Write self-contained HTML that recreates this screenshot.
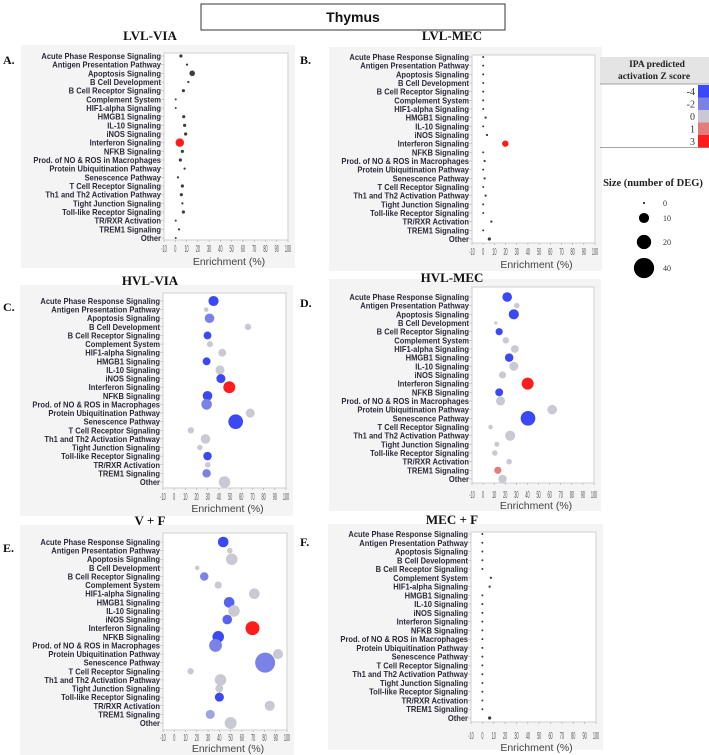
<!DOCTYPE html>
<html><head><meta charset="utf-8"><style>
html,body{margin:0;padding:0;background:#fff;}
svg{display:block;}
.lbl{font-family:"Liberation Sans",sans-serif;font-weight:bold;font-size:8.4px;fill:#2a2a3a;}
.tick{font-family:"Liberation Sans",sans-serif;font-size:9px;fill:#555;}
.ax{font-family:"Liberation Sans",sans-serif;font-size:10.5px;fill:#444;}
.pt{font-family:"Liberation Serif",serif;font-weight:bold;font-size:13px;fill:#111;}
.pl{font-family:"Liberation Serif",serif;font-weight:bold;font-size:12px;fill:#111;}
</style></head><body>
<svg id="fig" width="709" height="755" viewBox="0 0 709 755">
<rect x="201" y="4" width="304" height="26" fill="#fff" stroke="#333" stroke-width="1"/>
<text x="353" y="22" text-anchor="middle" font-family="Liberation Sans,sans-serif" font-weight="bold" font-size="14" fill="#111">Thymus</text>
<g id="panels"></g>
<g>
<rect x="600" y="57" width="109" height="27" fill="#e4e4e4"/>
<text x="657" y="67" text-anchor="middle" font-family="Liberation Serif,serif" font-weight="bold" font-size="9.5" fill="#222">IPA predicted</text>
<text x="654" y="79" text-anchor="middle" font-family="Liberation Serif,serif" font-weight="bold" font-size="9.5" fill="#222">activation Z score</text>
<line x1="600" y1="84" x2="709" y2="84" stroke="#888" stroke-width="0.8"/>
<line x1="600" y1="147.5" x2="709" y2="147.5" stroke="#888" stroke-width="0.8"/>
<g id="zleg"></g>
</g>
<g>
<text x="653" y="186" text-anchor="middle" font-family="Liberation Serif,serif" font-weight="bold" font-size="10.5" fill="#222">Size (number of DEG)</text>
<g id="sleg"></g>
</g>
</svg>
<script>
const categories = ["Acute Phase Response Signaling","Antigen Presentation Pathway","Apoptosis Signaling","B Cell Development","B Cell Receptor Signaling","Complement System","HIF1-alpha Signaling","HMGB1 Signaling","IL-10 Signaling","iNOS Signaling","Interferon Signaling","NFKB Signaling","Prod. of NO & ROS in Macrophages","Protein Ubiquitination Pathway","Senescence Pathway","T Cell Receptor Signaling","Th1 and Th2 Activation Pathway","Tight Junction Signaling","Toll-like Receptor Signaling","TR/RXR Activation","TREM1 Signaling","Other"];
const xTicks = [-10,0,10,20,30,40,50,60,70,80,90,100];

const enrichA = [5,10.4,15,11.6,7.2,0.4,0.4,7.5,8.3,9.2,4,6.3,4.5,8.3,2.4,6.3,5.4,6.3,7.2,0.4,3.3,0.4];
const degA    = [1,0.5,3,0.5,1,0,0,1,1,1,7,1,1,0.5,0.5,1,1,0.5,1,0,0.5,0];
const zA      = ["k","k","k","k","k","k","k","k","k","k","3","k","k","k","k","k","k","k","k","k","k","k"];

const enrichB = [0,0,0,0,0,0,0,2.2,0,3.4,19.8,0,1.3,0,1.3,0,2.2,0,0,7.3,0,5.5];
const degB    = [0,0,0,0,0,0,0,0.5,0,0.5,4,0,0.5,0,0.5,0,0.5,0,0,0.5,0,1];
const zB      = ["k","k","k","k","k","k","k","k","k","k","3","k","k","k","k","k","k","k","k","k","k","k"];

const enrichC = [35.2,28.6,31.6,66,29.8,32,43,29,41,41.8,49.3,29.8,29,68,55,14.9,28,23,29.8,30,29,45];
const degC    = [10,2,9,4,6,3.5,6,6,8,8,14,9,11,8,21,4,9,3,7,3,7,13];
const zC      = ["-4","0","-2","0","-4","0","0","-4","0","-4","3","-4","-2","0","-4","0","0","0","-4","0","-2","0"];

const enrichD = [21.7,30.4,27.7,11.5,14.5,20.5,28.6,23.5,27.7,17.5,40.2,14.5,15.7,62.3,40.5,6.7,24.4,12.4,10.6,23.5,13.3,17.5];
const degD    = [9,3,10,1,5,4,6,7,8,5,14,6,8,9,21,2,10,2.5,3,3,5,7];
const zD      = ["-4","0","-4","0","-4","0","0","-4","0","0","3","-4","0","0","-4","0","0","0","0","0","1","0"];

const enrichE = [43.4,49.3,51,20.4,26.6,39,71,48.7,53,47,69.4,39,36.6,92,80.6,14.5,41,39.9,40,84.7,31.9,50];
const degE    = [11,3,13,2,7,5,11,11,13,9,19,13,16,10,39,4,13,6,8,10,8,14];
const zE      = ["-4","0","0","0","-2","0","0","-3","0","-3","3","-4","-2","0","-2","0","0","0","-4","0","-1","0"];

const enrichF = [0,0,0,0,0,7.5,6.4,0,0,0,0,0,0,0,0,0,0,0,0,0,0,6.4];
const degF    = [0,0,0,0,0,0.5,0.5,0,0,0,0,0,0,0,0,0,0,0,0,0,0,1];
const zF      = ["k","k","k","k","k","k","k","k","k","k","k","k","k","k","k","k","k","k","k","k","k","k"];

const zLegendLabels = ["-4","-2","0","1","3"];
const sizeLegendValues = [0,10,20,40];

const colors = {"-4":"#3a48f5","-3":"#5862f0","-2":"#7a82e6","-1":"#9ea3e2","0":"#c8c9d3","1":"#e47c7c","3":"#ff1c1c","k":"#3c3c3c"};
function rad(n){ return Math.max(1, 1.6*Math.sqrt(n)); }

const NS = "http://www.w3.org/2000/svg";
function mk(tag, attrs, parent){ const e=document.createElementNS(NS,tag); for(const k in attrs) e.setAttribute(k,attrs[k]); if(parent) parent.appendChild(e); return e; }

const panels = [
 {id:"a", letter:"A.", title:"LVL-VIA", tx:150, ty:40, fl:164, fr:288, ft:53, fb:240, r0:56, r1:238, tickY:252, axY:265, ly:64, lx:3, e:enrichA, d:degA, z:zA},
 {id:"b", letter:"B.", title:"LVL-MEC", tx:452, ty:40, fl:472, fr:595, ft:55, fb:243, r0:57, r1:239, tickY:255, axY:268, ly:64, lx:300, e:enrichB, d:degB, z:zB},
 {id:"c", letter:"C.", title:"HVL-VIA", tx:150, ty:285, fl:163, fr:286, ft:293, fb:488, r0:301, r1:482, tickY:500, axY:512, ly:311, lx:3, e:enrichC, d:degC, z:zC},
 {id:"d", letter:"D.", title:"HVL-MEC", tx:452, ty:282, fl:472, fr:594, ft:287, fb:483, r0:297, r1:479, tickY:498, axY:509, ly:307, lx:300, e:enrichD, d:degD, z:zD},
 {id:"e", letter:"E.", title:"V + F", tx:150, ty:525, fl:163, fr:287, ft:533, fb:730, r0:542, r1:723, tickY:741, axY:752, ly:552, lx:3, e:enrichE, d:degE, z:zE},
 {id:"f", letter:"F.", title:"MEC + F", tx:452, ty:524, fl:471, fr:596, ft:532, fb:722, r0:534, r1:718, tickY:739, axY:751, ly:546, lx:300, e:enrichF, d:degF, z:zF}
];

const root = document.getElementById("panels");
panels.forEach(p=>{
  const g = mk("g",{},root);
  
  
  const bg = mk("rect",{x:p.fl-143,y:p.ft-8,width:p.fr-p.fl+150,height:p.fb-p.ft+36,fill:"#f4f4f4"},g);
  
  
  const fr = mk("rect",{x:p.fl,y:p.ft,width:p.fr-p.fl,height:p.fb-p.ft,fill:"#fff",stroke:"#cfcfcf","stroke-width":1},g);
  
  
  const t = mk("text",{x:p.tx,y:p.ty,"text-anchor":"middle",class:"pt"},g); t.textContent=p.title;
  
  
  const L = mk("text",{x:p.lx,y:p.ly,class:"pl"},g); L.textContent=p.letter;
  
  
  const xs = v => p.fl + (v+10)/110*(p.fr-p.fl);
  const ys = i => p.r0 + i*(p.r1-p.r0)/(categories.length-1);
  const sc = 0.9;
  const lg = mk("g",{transform:"translate("+(p.fl-3)+",0) scale("+sc+",1)"},g);
  categories.forEach((c,i)=>{
    const tx = mk("text",{x:0,y:ys(i)+3,"text-anchor":"end",class:"lbl"},lg); tx.textContent=c;
    
    
    mk("line",{x1:0,y1:ys(i),x2:3/sc,y2:ys(i),stroke:"#aaa","stroke-width":0.5},lg);
  });
  xTicks.forEach(v=>{
    const x = xs(v);
    mk("line",{x1:x,y1:p.fb,x2:x,y2:p.fb+2,stroke:"#aaa","stroke-width":0.6},g);
    const tt = mk("text",{x:0,y:0,"text-anchor":"middle",class:"tick",transform:"translate("+x+","+p.tickY+") scale(0.42,1.15)"},g);
    tt.textContent = v;
    
    
  });
  const ax = mk("text",{x:(p.fl+p.fr)/2+3,y:p.axY,"text-anchor":"middle",class:"ax"},g); ax.textContent="Enrichment (%)";
  
  
  categories.forEach((c,i)=>{
    const circ = mk("circle",{cx:xs(p.e[i]),cy:ys(i),r:rad(p.d[i]),fill:colors[p.z[i]]},g);
    
    
  });
});

const zl = document.getElementById("zleg");
const swColors = [colors["-4"],colors["-2"],colors["0"],colors["1"],colors["3"]];
zLegendLabels.forEach((lab,i)=>{
  const y0 = 85 + i*12.5;
  const sw = mk("rect",{x:698,y:y0,width:11,height:12.5,fill:swColors[i]},zl);
  
  
  const tx = mk("text",{x:695,y:y0+10,"text-anchor":"end","font-family":"Liberation Serif,serif","font-size":"10",fill:"#333"},zl);
  tx.textContent = lab;
  
  
});
const sl = document.getElementById("sleg");
const sy = [203,218,242,268];
sizeLegendValues.forEach((v,i)=>{
  const c = mk("circle",{cx:644,cy:sy[i],r:rad(v),fill:"#000"},sl);
  
  
  const tx = mk("text",{x:663,y:sy[i]+3,"font-family":"Liberation Serif,serif","font-size":"8",fill:"#333"},sl);
  tx.textContent = v;
  
  
});
</script>
</body></html>
